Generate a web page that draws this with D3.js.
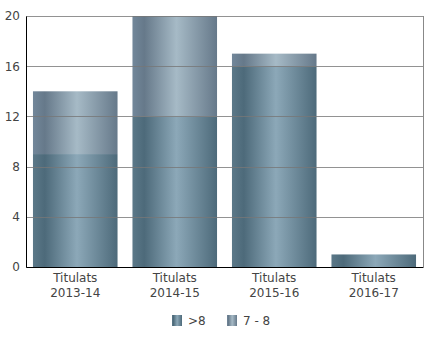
<!DOCTYPE html>
<meta charset="utf-8">
<head>
<script src="https://d3js.org/d3.v7.min.js"></script>
<style>
body { margin: 0; background: #fff; font-family: "DejaVu Sans", sans-serif; }
.axis text { font: 12px "DejaVu Sans"; fill: #444; }
.grid line { stroke: #777; stroke-opacity: 0.8; shape-rendering: crispEdges; }
.grid path { stroke-width: 0; }
</style>
</head>
<body>
<script>

// chart data
var categories = ["Titulats 2013-14", "Titulats 2014-15", "Titulats 2015-16", "Titulats 2016-17"];
var seriesNames = [">8", "7 - 8"];
var over8 = [9, 12, 16, 1];
var from7to8 = [5, 8, 1, 0];
var yTicks = [0, 4, 8, 12, 16, 20];

var margin = {top: 16, right: 7, bottom: 81, left: 26},
    width = 430 - margin.left - margin.right,
    height = 348 - margin.top - margin.bottom;

var svg = d3.select("body").append("svg")
    .attr("width", 430)
    .attr("height", 348);

// gradients for the bars
var defs = svg.append("defs");
function makeGrad(id, edge, dark, light) {
  var g = defs.append("linearGradient").attr("id", id)
      .attr("x1", "0%").attr("x2", "100%").attr("y1", "0%").attr("y2", "0%");
  g.append("stop").attr("offset", "0%").attr("stop-color", edge);
  g.append("stop").attr("offset", "14%").attr("stop-color", dark);
  g.append("stop").attr("offset", "52%").attr("stop-color", light);
  g.append("stop").attr("offset", "100%").attr("stop-color", dark);
}
makeGrad("g0", "#5b7888", "#4d6a7a", "#8ca8b8");
makeGrad("g1", "#72879a", "#66798a", "#a6bac6");
var fills = ["url(#g0)", "url(#g1)"];

var g = svg.append("g")
    .attr("transform", "translate(" + margin.left + "," + margin.top + ")");

var x = d3.scaleBand().domain(categories).range([0, width])
    .paddingInner(0.15).paddingOuter(0.07);
var y = d3.scaleLinear().domain([0, 20]).range([height, 0]);

var rows = categories.map(function(c, i) {
  return {cat: c, ">8": over8[i], "7 - 8": from7to8[i]};
});
var stacked = d3.stack().keys(seriesNames)(rows);

g.selectAll(".series")
    .data(stacked)
  .enter().append("g")
    .attr("fill", function(d, i) { return fills[i]; })
  .selectAll("rect")
    .data(function(d) { return d; })
  .enter().append("rect")
    .attr("x", function(d) { return x(d.data.cat); })
    .attr("width", x.bandwidth())
    .attr("y", function(d) { return y(d[1]); })
    .attr("height", function(d) { return y(d[0]) - y(d[1]); });

// gridlines on top of bars
g.append("g")
    .attr("class", "grid")
    .call(d3.axisLeft(y).tickValues(yTicks).tickSize(-width).tickFormat(""));

// right border
g.append("line")
    .attr("x1", width + 0.5).attr("x2", width + 0.5)
    .attr("y1", 0).attr("y2", height)
    .attr("stroke", "#888");

// y axis
var ya = g.append("g").attr("class", "axis")
    .call(d3.axisLeft(y).tickValues(yTicks).tickSize(0).tickPadding(6));
ya.select(".domain").attr("stroke", "#000");

// x axis
var xa = g.append("g").attr("class", "axis")
    .attr("transform", "translate(0," + height + ")")
    .call(d3.axisBottom(x).tickSize(0).tickPadding(6).tickFormat(""));
xa.select(".domain").attr("stroke", "#000");
xa.selectAll(".tick").each(function(d) {
  var parts = d.split(" ");
  var t = d3.select(this).append("text")
      .attr("y", 4).attr("fill", "#444").style("text-anchor", "middle");
  t.append("tspan").attr("x", 0).attr("dy", "0.95em").text(parts[0]);
  t.append("tspan").attr("x", 0).attr("dy", "1.2em").text(parts[1]);
});

// legend
var legend = svg.append("g").attr("transform", "translate(172,315)");
var lx = [0, 55];
seriesNames.forEach(function(s, i) {
  var it = legend.append("g").attr("transform", "translate(" + lx[i] + ",0)");
  it.append("rect").attr("width", 10).attr("height", 11).attr("fill", fills[i]);
  it.append("text").attr("x", 16).attr("y", 10)
      .style("font", "12px 'DejaVu Sans'").attr("fill", "#444").text(s);
});

</script>
</body>
